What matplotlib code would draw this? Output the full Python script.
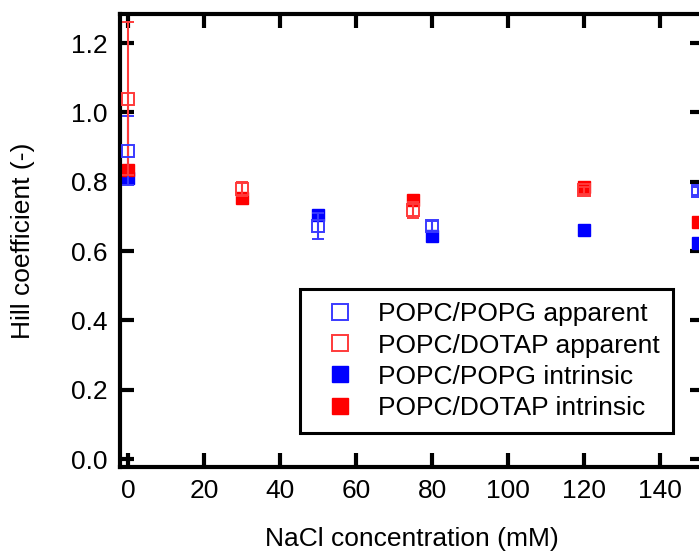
import matplotlib
matplotlib.use("Agg")
import matplotlib.pyplot as plt
from matplotlib.lines import Line2D

plt.rcParams['font.family'] = ['Liberation Sans', 'DejaVu Sans']

# POPC/POPG apparent (open blue)
x_pg_app = [0, 50, 80, 150]
y_pg_app = [0.89, 0.672, 0.672, 0.773]
e_pg_app = [0.10, 0.037, 0.015, 0.012]
# POPC/DOTAP apparent (open red)
x_dt_app = [0, 30, 75, 120]
y_dt_app = [1.04, 0.778, 0.718, 0.775]
e_dt_app = [0.22, 0.02, 0.024, 0.01]
# POPC/POPG intrinsic (filled blue)
x_pg_int = [0, 50, 80, 120, 150]
y_pg_int = [0.81, 0.704, 0.643, 0.66, 0.623]
# POPC/DOTAP intrinsic (filled red)
x_dt_int = [0, 30, 75, 120, 150]
y_dt_int = [0.835, 0.753, 0.747, 0.785, 0.683]

labels = ['POPC/POPG apparent', 'POPC/DOTAP apparent',
          'POPC/POPG intrinsic', 'POPC/DOTAP intrinsic']
xticks = [0, 20, 40, 60, 80, 100, 120, 140]
yticks = [0.0, 0.2, 0.4, 0.6, 0.8, 1.0, 1.2]

BLUE_O = '#3a3aff'
RED_O = '#ff3a3a'

fig = plt.figure(figsize=(6.99, 5.52), dpi=100)
ax = fig.add_axes([0.1723, 0.154, 0.835, 0.8207])

ax.plot(x_pg_int, y_pg_int, 's', color='#0000ff', ms=9, zorder=2)
ax.plot(x_dt_int, y_dt_int, 's', color='#ff0000', ms=9, zorder=2)
ax.errorbar(x_pg_app, y_pg_app, yerr=e_pg_app, fmt='s', mfc='none', mec=BLUE_O,
            ecolor=BLUE_O, ms=8, mew=1.4, capsize=4.5, elinewidth=1.5, capthick=1.5,
            zorder=3)
ax.errorbar(x_dt_app, y_dt_app, yerr=e_dt_app, fmt='s', mfc='none', mec=RED_O,
            ecolor=RED_O, ms=8, mew=1.4, capsize=4.5, elinewidth=1.5, capthick=1.5,
            zorder=3)

ax.set_xlim(-2, 151.5)
ax.set_ylim(-0.023, 1.284)
ax.set_xticks(xticks)
ax.set_yticks(yticks)
ax.set_yticklabels([f'{v:.1f}' for v in yticks])
ax.tick_params(direction='in', length=10, width=3, labelsize=19, top=True, right=True, pad=9)
for s in ax.spines.values():
    s.set_linewidth(3)

ax.set_xlabel('NaCl concentration (mM)', fontsize=19, labelpad=17)
ax.set_ylabel('Hill coefficient (-)', fontsize=19, labelpad=26)

handles = [
    Line2D([], [], ls='none', marker='s', mfc='none', mec=BLUE_O, ms=11, mew=1.4),
    Line2D([], [], ls='none', marker='s', mfc='none', mec=RED_O, ms=11, mew=1.4),
    Line2D([], [], ls='none', marker='s', color='#0000ff', ms=12),
    Line2D([], [], ls='none', marker='s', color='#ff0000', ms=12),
]
leg = ax.legend(handles, labels, loc='lower right', bbox_to_anchor=(0.947, 0.075),
                borderaxespad=0, fontsize=19, frameon=True, fancybox=False,
                edgecolor='black', handletextpad=0.45, handlelength=2.0,
                borderpad=0.5, labelspacing=0.27)
leg.get_frame().set_linewidth(2.2)
leg.get_frame().set_alpha(1)

fig.savefig('out.png', dpi=100)
